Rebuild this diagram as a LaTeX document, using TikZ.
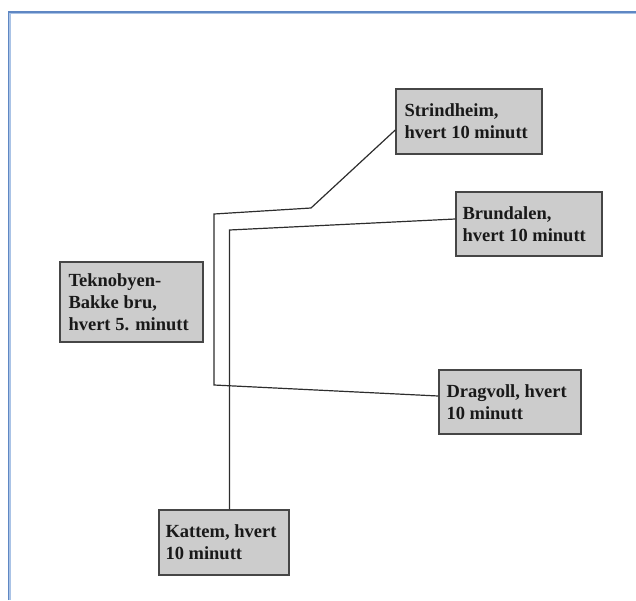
\documentclass[tikz,border=0pt]{standalone}
\usepackage{fontspec}
\setmainfont{Liberation Serif}
\definecolor{frameblue}{RGB}{95,135,195}
\definecolor{framelight}{RGB}{170,195,230}
\definecolor{boxfill}{RGB}{204,204,204}
\definecolor{boxline}{RGB}{70,70,70}
\definecolor{wire}{RGB}{45,45,45}
\tikzset{
  box/.style={draw=boxline, line width=1.4pt, fill=boxfill, inner sep=0pt},
  lbl/.style={align=left, inner sep=0pt, anchor=west, font=\fontsize{18.5}{22}\selectfont\bfseries, text=black!90},
  wireline/.style={draw=wire, line width=1.2pt, line join=miter}
}
\begin{document}
\begin{tikzpicture}[x=1pt,y=-1pt]
\useasboundingbox (0,0) rectangle (636,600);
% frame
\draw[framelight, line width=1.2pt] (10,600) -- (10,13.5) -- (636,13.5);
\draw[frameblue, line width=1.4pt] (8.5,600) -- (8.5,12) -- (636,12);
% boxes
\node[box, minimum width=146pt, minimum height=65pt] (s) at (469,121.5) {};
\node[lbl] (st) at ([xshift=9pt]s.west) {Strindheim,\\hvert 10 minutt};
\node[box, minimum width=146pt, minimum height=64pt] (b) at (529,224) {};
\node[lbl] (bt) at ([xshift=7pt]b.west) {Brundalen,\\hvert 10 minutt};
\node[box, minimum width=143pt, minimum height=80pt] (t) at (131.5,302) {};
\node[lbl] (tt) at ([xshift=9pt]t.west) {Teknobyen-\\Bakke bru,\\hvert 5. minutt};
\node[box, minimum width=142pt, minimum height=64pt] (d) at (510,402) {};
\node[lbl] (dt) at ([xshift=8pt]d.west) {Dragvoll, hvert\\10 minutt};
\node[box, minimum width=130pt, minimum height=65pt] (k) at (224,542.5) {};
\node[lbl] (kt) at ([xshift=7pt]k.west) {Kattem, hvert\\10 minutt};
% connector waypoints
\coordinate (a1) at (311,208);
\coordinate (a2) at (214,214);
\coordinate (a3) at (214,385);
\coordinate (b1) at (229.5,230);
% connectors
\draw[wireline] ([yshift=-8.5pt]s.west) -- (a1) -- (a2) -- (a3) -- ([yshift=6pt]d.west);
\draw[wireline] ([yshift=5pt]b.west) -- (b1) -- (b1 |- k.north);
\end{tikzpicture}
\end{document}
